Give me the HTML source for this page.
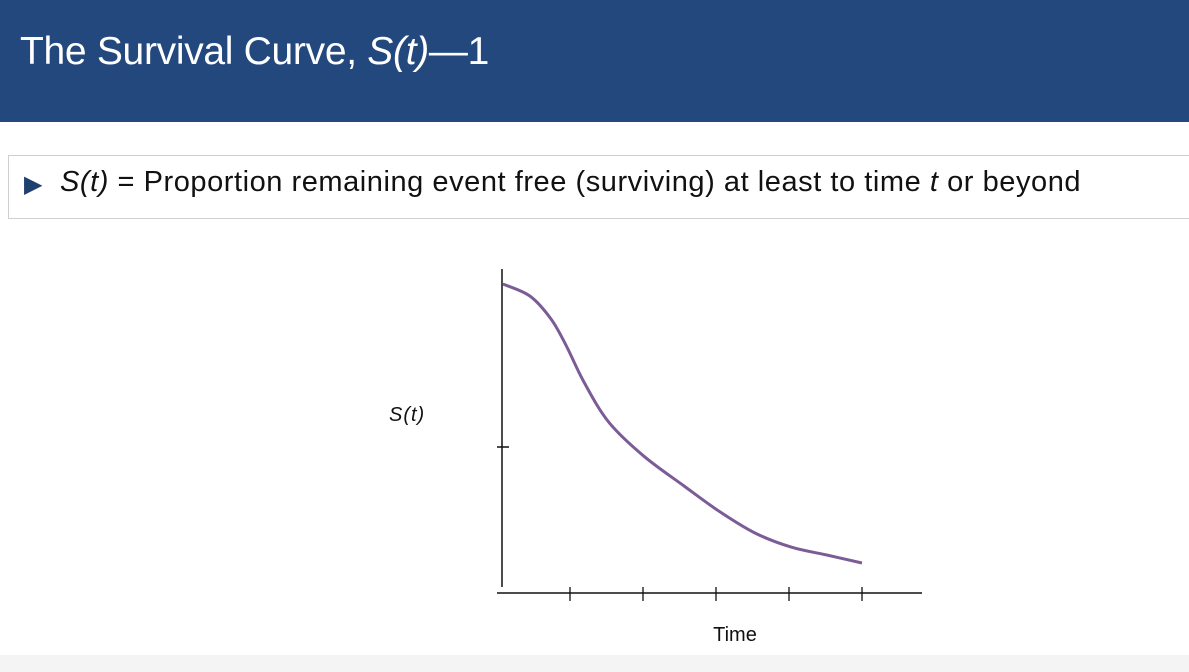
<!DOCTYPE html>
<html><head><meta charset="utf-8">
<style>
body{margin:0;width:1189px;height:672px;overflow:hidden;background:#fff;font-family:"Liberation Sans",sans-serif;position:relative}
#hdr{position:absolute;left:0;top:0;width:1189px;height:122px;background:#22487d}
#title{position:absolute;left:20px;top:30px;color:#fff;font-size:39px;letter-spacing:-0.3px;white-space:nowrap}
#box{position:absolute;left:8px;top:155px;width:1190px;height:64px;border:1px solid #cfcfcf;box-sizing:border-box}
#bullet{position:absolute;left:24px;top:170px;font-size:24px;color:#1f3f6e}
#btext{position:absolute;left:60px;top:166px;font-size:29px;color:#111;letter-spacing:0.55px;white-space:nowrap}
#foot{position:absolute;left:0;top:655px;width:1189px;height:17px;background:#f4f4f4}
svg{position:absolute;left:0;top:0}
</style></head><body>
<div id="hdr"></div>
<div id="title">The Survival Curve, <i>S(t)</i>—1</div>
<div id="box"></div>
<div id="bullet">▶</div>
<div id="btext"><i>S(t)</i> = Proportion remaining event free (surviving) at least to time <i>t</i> or beyond</div>
<div id="foot"></div>
<svg width="1189" height="672" id="chart">
<line x1="502" y1="269" x2="502" y2="587" stroke="#111" stroke-width="1.5"/>
<line x1="497" y1="447" x2="509" y2="447" stroke="#111" stroke-width="1.5"/>
<line x1="497" y1="593" x2="922" y2="593" stroke="#111" stroke-width="1.5"/>
<text x="389" y="421" font-size="20" font-style="italic" fill="#111" letter-spacing="1">S(t)</text>
<text x="735" y="641" font-size="20" fill="#111" text-anchor="middle">Time</text>
</svg>
<script>
const tickTimes=[1,2,3,4,5];
const times=[0.08,0.45,0.74,0.95,1.19,1.53,2.01,2.56,3.04,3.53,4.03,4.51,5.0];
const survival=[1.003,0.966,0.895,0.812,0.701,0.577,0.472,0.38,0.302,0.235,0.191,0.167,0.142];
const xs=t=>497+t*73;
const ys=s=>609-s*324;
const svg=document.getElementById('chart');
const NS='http://www.w3.org/2000/svg';
tickTimes.forEach(t=>{
 const l=document.createElementNS(NS,'line');
 l.setAttribute('x1',xs(t));l.setAttribute('x2',xs(t));
 l.setAttribute('y1',587);l.setAttribute('y2',601);
 l.setAttribute('stroke','#111');l.setAttribute('stroke-width','1.3');
 
 
 svg.appendChild(l);
});
const P=times.map((t,i)=>[xs(t),ys(survival[i])]);
let d='M'+P[0][0]+','+P[0][1];
for(let i=0;i<P.length-1;i++){
 const p0=P[i-1]||P[i],p1=P[i],p2=P[i+1],p3=P[i+2]||p2;
 const c1=[p1[0]+(p2[0]-p0[0])/6,p1[1]+(p2[1]-p0[1])/6];
 const c2=[p2[0]-(p3[0]-p1[0])/6,p2[1]-(p3[1]-p1[1])/6];
 d+=' C'+c1+' '+c2+' '+p2;
}
const path=document.createElementNS(NS,'path');
path.setAttribute('d',d);path.setAttribute('fill','none');
path.setAttribute('stroke','#7b5c96');path.setAttribute('stroke-width','3');


svg.appendChild(path);
</script>
</body></html>
